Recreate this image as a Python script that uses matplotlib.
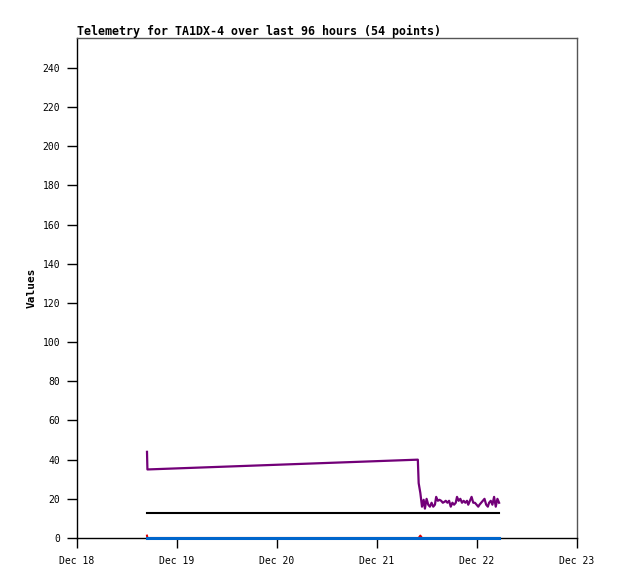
import matplotlib
matplotlib.use("Agg")
import matplotlib.pyplot as plt
import matplotlib.dates as mdates
import pandas as pd
import numpy as np

title = "Telemetry for TA1DX-4 over last 96 hours (54 points)"
ylabel = "Values"
start = pd.Timestamp("2024-12-18 00:00")

# hours since Dec 18 00:00
hours = [16.8, 16.9, 81.8,
         82.0, 82.4, 82.8, 83.2, 83.5, 83.9, 84.3, 84.7, 85.1, 85.5,
         85.9, 86.2, 86.6, 87.0, 87.4, 87.8, 88.2, 88.5, 88.9, 89.3,
         89.7, 90.1, 90.5, 90.9, 91.2, 91.6, 92.0, 92.4, 92.8, 93.2,
         93.6, 93.9, 94.3, 94.7, 95.1, 95.5, 95.9, 96.3, 96.6, 97.0,
         97.4, 97.8, 98.2, 98.6, 98.9, 99.3, 99.7, 100.1, 100.5, 100.9, 101.3]
purple_vals = [44, 35, 40,
               28, 23, 16, 19.5, 15, 20, 17, 16, 18, 16,
               17, 21, 19, 19.5, 19, 18, 18.5, 19, 18, 19,
               16, 18, 17, 18, 21, 19, 20, 18, 19, 18,
               19, 17, 19, 21, 18, 18, 17, 16, 17, 18,
               19, 20, 17, 16, 18, 19, 17, 21, 16, 20, 18]
black_vals = [13] * len(hours)
red_vals = [1.2, 0, 0, 0, 1.2] + [0] * (len(hours) - 5)
blue_vals = [0] * len(hours)

times = [start + pd.Timedelta(hours=h) for h in hours]
xticks = pd.date_range("2024-12-18", "2024-12-23", freq="D")
yticks = list(range(0, 241, 20))

fig = plt.figure(figsize=(6.18, 5.79), dpi=100)
ax = fig.add_axes([77/618, 1-538/579, 500/618, 500/579])

ax.plot(times, red_vals, color="#e00000", lw=1.5, zorder=2, clip_on=False)
ax.plot(times, blue_vals, color="#0066cc", lw=2.2, zorder=3, clip_on=False)
ax.plot(times, black_vals, color="black", lw=1.5, zorder=3)
ax.plot(times, purple_vals, color="#720078", lw=1.6, zorder=4)

ax.set_xlim(xticks[0], xticks[-1])
ax.set_ylim(0, 255.3)
ax.set_xticks(xticks)
ax.xaxis.set_major_formatter(mdates.DateFormatter("%b %d"))
ax.set_yticks(yticks)

mono = "DejaVu Sans Mono"
for lab in ax.get_xticklabels() + ax.get_yticklabels():
    lab.set_family(mono)
    lab.set_fontsize(7)
ax.tick_params(axis="both", direction="out", length=7, width=1, color="black")
ax.tick_params(axis="x", pad=6)
ax.tick_params(axis="y", pad=5)

for s in ["left", "bottom"]:
    ax.spines[s].set_color("black")
for s in ["top", "right"]:
    ax.spines[s].set_color("#555555")
for s in ax.spines.values():
    s.set_linewidth(1)

ax.set_ylabel(ylabel, family=mono, fontweight="bold", fontsize=8, labelpad=4)
fig.text(77/618, 1-31/579, title, family=mono, fontweight="bold", fontsize=8.35,
         ha="left", va="center")

fig.savefig("out.png", dpi=100)
